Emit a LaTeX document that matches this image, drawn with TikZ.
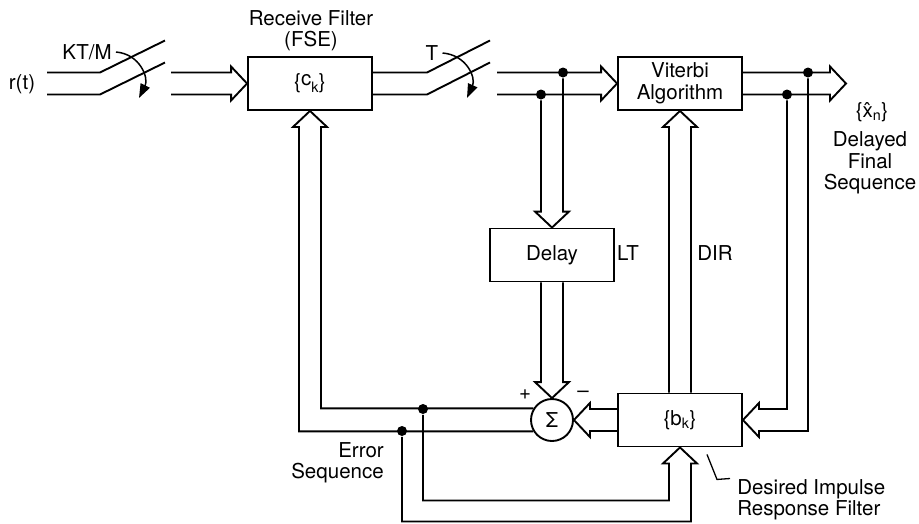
\documentclass[tikz,border=0pt]{standalone}
\usepackage{fontspec}
\setmainfont{TeX Gyre Heros}
\usetikzlibrary{arrows.meta, calc}

\begin{document}
\begin{tikzpicture}[x=1pt,y=-1pt,line width=1.9pt,font=\fontsize{20.5}{21.5}\selectfont,
    blk/.style={draw,minimum width=124pt,minimum height=53pt,align=center,inner sep=2pt},
    dot/.style={circle,fill,inner sep=0pt,minimum size=10pt},
    bus/.style={to path={
      ($(\tikztostart)!11pt!90:(\tikztotarget)$)
      -- ($(\tikztotarget)!16pt!(\tikztostart)!11pt!90:(\tikztotarget)$)
      -- ($(\tikztotarget)!16pt!(\tikztostart)!17pt!90:(\tikztotarget)$)
      -- (\tikztotarget)
      -- ($(\tikztotarget)!16pt!(\tikztostart)!17pt!-90:(\tikztotarget)$)
      -- ($(\tikztotarget)!16pt!(\tikztostart)!11pt!-90:(\tikztotarget)$)
      -- ($(\tikztostart)!11pt!-90:(\tikztotarget)$)}},
    sw/.style={-{Triangle[length=14pt,width=10pt]},line width=1.5pt}]
    \useasboundingbox (0,0) rectangle (919,523);

    \node (rt) at (22,84) {r(t)};
    \node (ktm) at (87,52) {KT/M};
    \node[blk] (cf) at (310,83.5) {\{\raisebox{.3ex}{c}\textsubscript{k}\}};
    \node[align=center] (rf) at (311,30.5) {Receive Filter\\(FSE)};
    \node (t) at (432,53) {T};
    \node[blk] (vit) at (680,83.5) {Viterbi\\Algorithm};
    \node[blk] (del) at (552,255) {Delay};
    \node (lt) at (628,253) {LT};
    \node (dir) at (715,253) {DIR};
    \node[draw,circle,minimum size=42pt,inner sep=0pt] (sum) at (552,420) {Σ};
    \node (pl) at (525,395) {+};
    \node (mi) at (583,394) {–};
    \node[blk] (bf) at (680,420) {\{b\textsubscript{k}\}};
    \node[inner sep=1pt] (xn) at (872,112) {\{\^{x}\textsubscript{n}\}};
    \node[align=center,inner sep=1pt] (dfs) at (870,163) {Delayed\\Final\\Sequence};
    \node[align=right,anchor=east] (err) at (388,463) {Error\\Sequence};
    \node[align=left,anchor=north west] (dirf) at (733,475) {Desired Impulse\\Response Filter};

    \node[dot] (d1) at (541,94.5) {};
    \node[dot] (d2) at (563,72.5) {};
    \node[dot] (d3) at (423,409) {};
    \node[dot] (d4) at (402,431) {};
    \node[dot] (d5) at (787,94.5) {};
    \node[dot] (d6) at (808,72.5) {};

    \coordinate (s1) at (100,83.5);
    \coordinate (s2) at (427,83.5);
    \coordinate (b1) at (171,83.5);
    \coordinate (b2) at (497,83.5);
    \coordinate (xo) at (846,83.5);

    % switches
    \draw ($(s1)+(-53,-11)$) -- ++(53,0) -- ++(65,-32)
          ($(s1)+(-53,11)$) -- ++(53,0) -- ++(65,-32);
    \draw ($(cf.east)+(0,-11)$) -- ($(s2)+(0,-11)$) -- ++(63,-32)
          ($(cf.east)+(0,11)$) -- ($(s2)+(0,11)$) -- ++(63,-32);
    \draw[sw] (ktm.east) .. controls (140,54) and (149,78) .. (139,98);
    \draw[sw] (t.east) .. controls (467,55) and (476,78) .. (467,98);

    \draw (b1) to[bus] (cf.west);
    \draw (b2) to[bus] (vit.west);
    \draw (vit.east) to[bus] (xo);
    \draw (del.south) to[bus] (sum.north);
    \draw (bf.west) to[bus] (sum.east);
    \draw (bf.north) to[bus] (vit.south);

    \draw (d1) -- ($(del.north)+(-11,-16)$) -- ++(-6,0) -- (del.north) -- ++(17,-16) -- ++(-6,0) -- (d2);
    \draw (sum.148.4) -| ($(cf.south)+(11,16)$) -- ++(6,0) -- (cf.south) -- ++(-17,16) -- ++(6,0) |- (sum.211.6);
    \draw (d3) |- ($(bf.south)+(-11,53)$) -- ++(0,-37) -- ++(-6,0) -- (bf.south) -- ++(17,16) -- ++(-6,0) -- ++(0,58) -| (d4);
    \draw (d5) |- ($(bf.east)+(16,-11)$) -- ++(0,-6) -- (bf.east) -- ++(16,17) -- ++(0,-6) -| (d6);
    \draw[line width=1.3pt] ($(bf.south)+(27,7)$) -- ++(10,25) -- ($(dirf.north west)+(-3,3.5)$);
\end{tikzpicture}
\end{document}
